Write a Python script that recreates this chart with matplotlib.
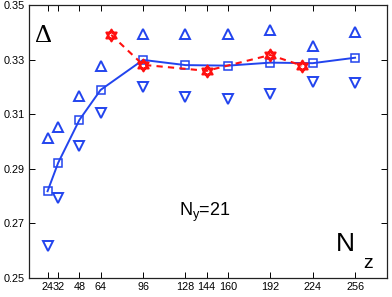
import matplotlib
matplotlib.use("Agg")
import numpy as np
import matplotlib.pyplot as plt
from matplotlib.path import Path

plt.rcParams['font.family'] = ['Liberation Sans', 'DejaVu Sans']
plt.rcParams['mathtext.fontset'] = 'custom'
plt.rcParams['mathtext.rm'] = 'Liberation Sans'
plt.rcParams['mathtext.it'] = 'Liberation Sans'

nz = [24, 32, 48, 64, 96, 128, 160, 192, 224, 256]
delta_mean = [0.2818, 0.2922, 0.3079, 0.3189, 0.3299, 0.3280, 0.3278, 0.3289, 0.3287, 0.3307]
delta_up = [0.3014, 0.3054, 0.3168, 0.3277, 0.3393, 0.3393, 0.3395, 0.3410, 0.3351, 0.3401]
delta_down = [0.2618, 0.2794, 0.2984, 0.3103, 0.3199, 0.3164, 0.3157, 0.3173, 0.3218, 0.3216]

nz_red = [72, 96, 144, 192, 216]
delta_red = [0.3391, 0.3281, 0.3259, 0.3317, 0.3278]

xticks = [24, 32, 48, 64, 96, 128, 144, 160, 192, 224, 256]
yticks = [0.25, 0.27, 0.29, 0.31, 0.33, 0.35]

blue = '#2244ee'
red = '#ff1010'

# hexagram marker drawn as two overlapping triangles
verts = []
codes = []
for off in (np.pi / 2, -np.pi / 2):
    tri = [(np.cos(off + k * 2 * np.pi / 3), np.sin(off + k * 2 * np.pi / 3)) for k in range(3)]
    verts += tri + [tri[0]]
    codes += [Path.MOVETO, Path.LINETO, Path.LINETO, Path.CLOSEPOLY]
hexagram = Path(verts, codes)

W, H = 392, 297
fig = plt.figure(figsize=(W / 100, H / 100), dpi=100)
ax = fig.add_axes([0.074, 0.064, 0.913, 0.919])

ax.plot(nz, delta_mean, '-', color=blue, lw=1.4, marker='s', ms=5.5,
        mfc='none', mec=blue, mew=1.1)
ax.plot(nz, delta_up, color=blue, marker='^', ms=7,
        mfc='none', mec=blue, mew=1.4, ls='none')
ax.plot(nz, delta_down, color=blue, marker='v', ms=7,
        mfc='none', mec=blue, mew=1.4, ls='none')
ax.plot(nz_red, delta_red, '--', color=red, lw=1.5, dashes=(3, 2.5))
ax.plot(nz_red, delta_red, ls='none', marker=hexagram, ms=8.5, mfc='none', mec=red, mew=1.5)

ax.set_xlim(10, 280)
ax.set_ylim(0.25, 0.35)
ax.set_xticks(xticks)
ax.set_xticklabels([str(t) for t in xticks])
ax.set_yticks(yticks)
ax.set_yticklabels(['%.2f' % t for t in yticks])
ax.tick_params(direction='in', length=4, width=0.7, labelsize=7.8, top=True, right=True, pad=3)
for s in ax.spines.values():
    s.set_linewidth(0.9)
    s.set_color('#222222')

def ftext(px, py, s, **kw):
    fig.text(px / W, 1 - py / H, s, ha='center', va='center', **kw)

ftext(43, 36, 'Δ', fontsize=19, family=['Liberation Serif', 'DejaVu Serif'])
ftext(205, 212, r'$\mathregular{N_y}$=21', fontsize=13)
ftext(345, 244, 'N', fontsize=19)
ftext(368, 263, 'z', fontsize=14)

fig.savefig('out.png', dpi=100)
